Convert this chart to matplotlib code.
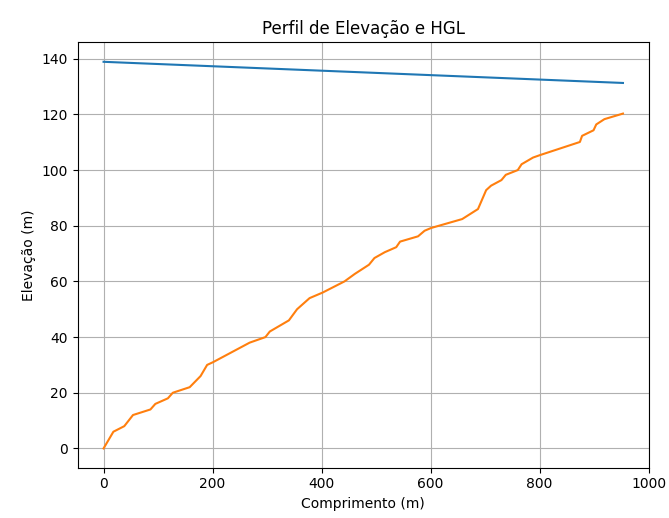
import matplotlib
matplotlib.use("Agg")
import matplotlib.pyplot as plt

# ============================================================
# DATA
# ============================================================

# HGL: straight line from start to end of the pipe
hgl_x = [0, 953]
hgl_y = [138.9, 131.3]

# terrain / pipe elevation profile
elev_x = [0, 18, 38, 54, 86, 95, 118, 127, 158, 178, 190, 201, 268, 297,
          305, 340, 355, 378, 402, 442, 461, 487, 497, 516, 537, 544, 577,
          589, 601, 658, 687, 702, 711, 730, 738, 760, 767, 788, 801, 874,
          878, 899, 904, 919, 953]
elev_y = [0, 6, 8, 12, 14, 16, 18, 20, 22, 26, 30, 31, 38, 40,
          42, 46, 50, 54, 56, 60, 62.7, 66, 68.4, 70.5, 72.3, 74.3, 76.2,
          78.2, 79.2, 82.4, 86, 92.8, 94.4, 96.4, 98.3, 100, 102.1, 104.5, 105.4, 110.1,
          112.3, 114.3, 116.4, 118.3, 120.3]

# ============================================================
# FIGURE
# ============================================================

fig = plt.figure(figsize=(6.69, 5.18), dpi=100)
ax = fig.add_subplot(111)
fig.subplots_adjust(left=0.116, right=0.970, top=0.918, bottom=0.097)

ax.plot(hgl_x, hgl_y)
ax.plot(elev_x, elev_y)

ax.set_title("Perfil de Elevação e HGL")
ax.set_xlabel("Comprimento (m)")
ax.set_ylabel("Elevação (m)")
ax.grid(True)

fig.savefig("out.png", dpi=100)
